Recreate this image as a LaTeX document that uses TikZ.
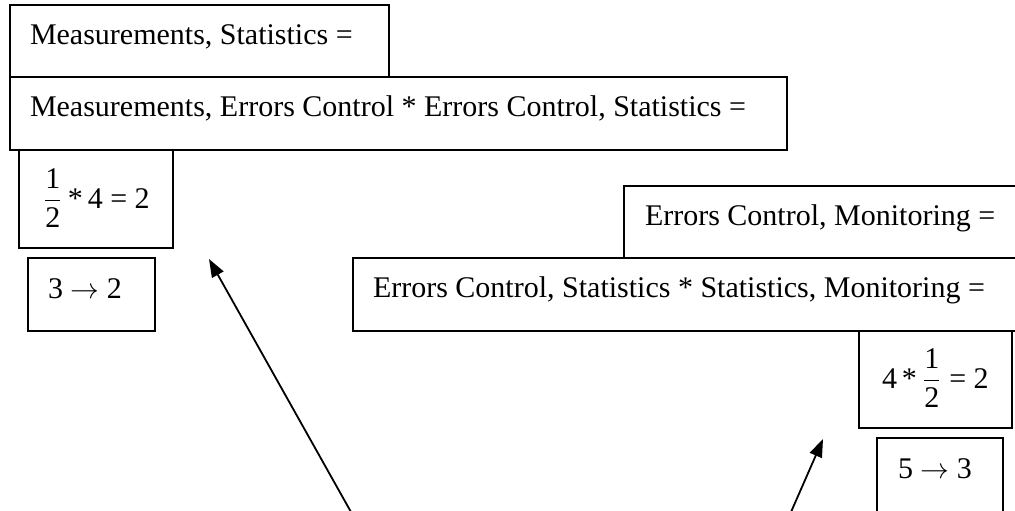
\documentclass[tikz,border=0pt]{standalone}
\usepackage{amsmath}
\usepackage{fontspec}
\setmainfont{Liberation Serif}
\usetikzlibrary{arrows.meta,fit}

\begin{document}
\begin{tikzpicture}[x=0.5pt,y=-0.5pt,
  box/.style={draw, line width=0.9pt, inner sep=0pt, outer sep=0pt},
  lbl/.style={anchor=base west, inner sep=0pt, outer sep=0pt,
    font=\fontsize{15}{18}\selectfont},
  pointer/.style={line width=0.9pt, -{Triangle[length=9pt,width=6.5pt]}}]

\useasboundingbox (0,0) rectangle (1015,510);
\clip (0,0) rectangle (1015,510);

% left group
\node[box, fit={(10,5) (389,77)}] (ms) {};
\node[lbl] (msT) at ([shift={(20,39)}]ms.north west) {Measurements, Statistics =};

\node[box, fit={(10,77) (787,150)}] (mec) {};
\node[lbl] (mecT) at ([shift={(20,39)}]mec.north west)
  {Measurements, Errors Control * Errors Control, Statistics =};

\node[box, fit={(19,150) (173,248)}] (half) {};
\node[lbl] (halfT) at ([shift={(24,58)}]half.north west)
  {$\dfrac{\text{1}}{\text{2}}$\,*\,4 = 2};

\node[box, fit={(28,258) (155,331)}] (three) {};
\node[lbl] (threeT) at ([shift={(20,40)}]three.north west)
  {3 $\rightarrow$ 2};

% right group
\node[box, fit={(624,186) (1040,258)}] (ecm) {};
\node[lbl] (ecmT) at ([shift={(21,39)}]ecm.north west)
  {Errors Control, Monitoring =};

\node[box, fit={(353,258) (1040,331)}] (ess) {};
\node[lbl] (essT) at ([shift={(20,39)}]ess.north west)
  {Errors Control, Statistics * Statistics, Monitoring =};

\node[box, fit={(859,331) (1012,428)}] (four) {};
\node[lbl] (fourT) at ([shift={(23,57)}]four.north west)
  {4\,*\,$\dfrac{\text{1}}{\text{2}}$ = 2};

\node[box, fit={(877,438) (1003,540)}] (five) {};
\node[lbl] (fiveT) at ([shift={(21,40)}]five.north west)
  {5 $\rightarrow$ 3};

% pointers
\coordinate (tailA) at (351,512);
\coordinate (tipA) at (209,259);
\coordinate (tailB) at (791,512);
\coordinate (tipB) at (823,439);
\draw[pointer] (tailA) -- (tipA);
\draw[pointer] (tailB) -- (tipB);
\end{tikzpicture}
\end{document}
